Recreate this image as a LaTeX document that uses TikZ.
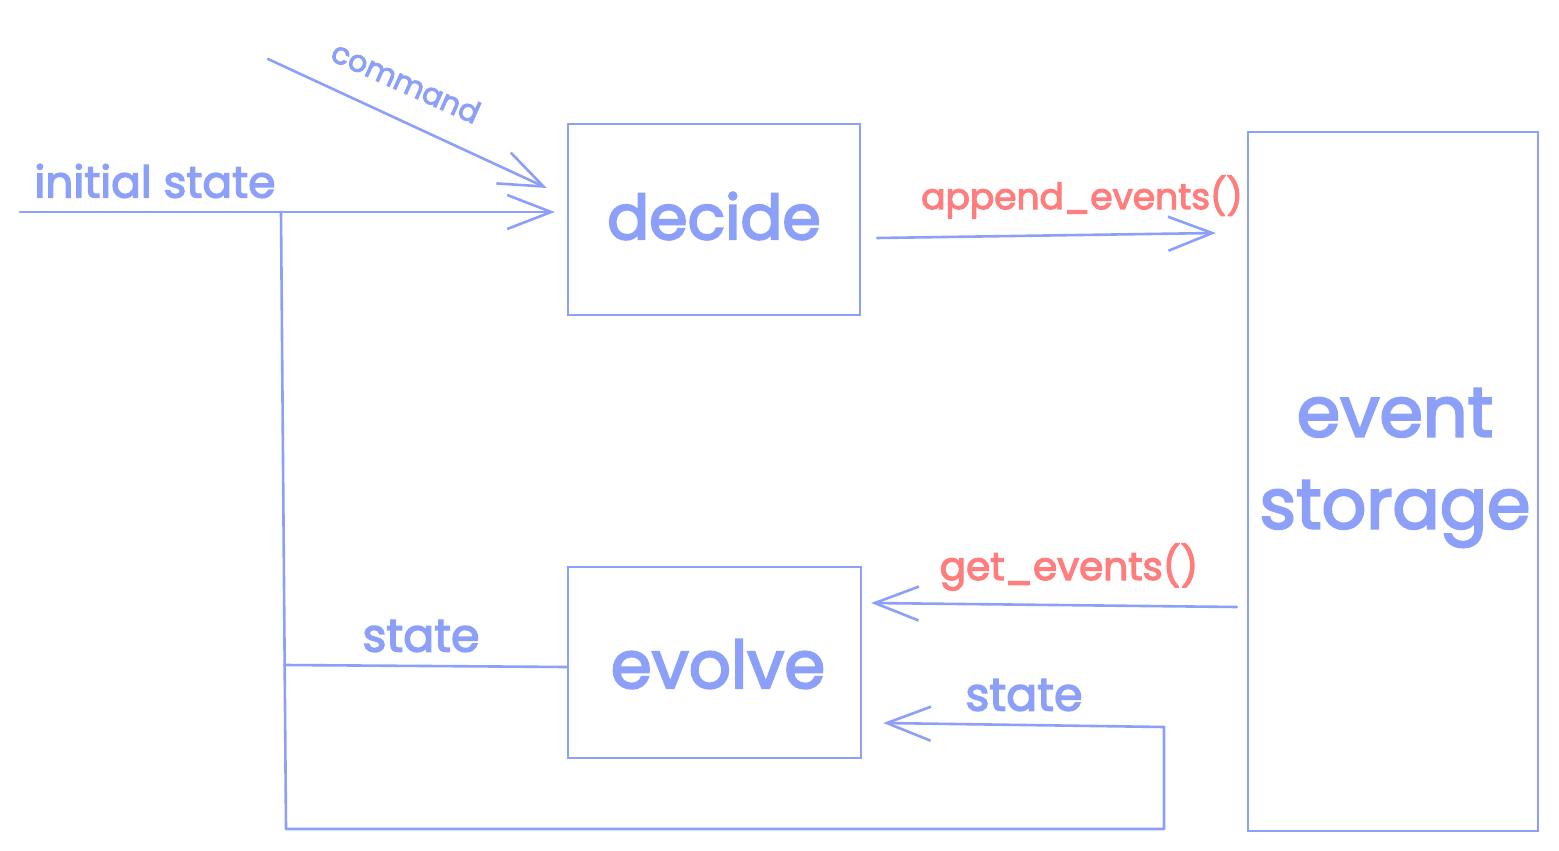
\documentclass[tikz,border=0pt]{standalone}
\usepackage{fontspec}
\setmainfont{Poppins}[FakeBold=3]
\usetikzlibrary{arrows.meta,calc}
\definecolor{skblue}{RGB}{140,160,250}
\definecolor{skred}{RGB}{255,125,125}
\tikzset{
  box/.style={draw=skblue,line width=2.4pt,minimum width=#1,inner sep=0pt},
  wire/.style={draw=skblue,line width=2.6pt,line cap=round,line join=round},
  arr/.style={wire,-{Straight Barb[length=44pt,width=34pt,line width=2.6pt]}},
  lbl/.style={text=skblue,font=\fontsize{46}{50}\selectfont,inner sep=0pt},
  rlbl/.style={text=skred,font=\fontsize{36}{40}\selectfont,inner sep=0pt},
  big/.style={text=skblue,font=\fontsize{62}{70}\selectfont}
}
\begin{document}
\begin{tikzpicture}[x=1pt,y=-1pt]
\useasboundingbox (0,0) rectangle (1559,851);
\fill[white] (0,0) rectangle (1559,851);
% boxes
\node[box=292pt,minimum height=191pt] (decide) at (714,219.5) {};
\node[big] at (714,216) {decide};
\node[box=293pt,minimum height=191pt] (evolve) at (714.5,662.5) {};
\node[big,font=\fontsize{66}{70}\selectfont] at (718,664) {evolve};
\node[box=290pt,minimum height=699pt] (storage) at (1393,481.5) {};
\node[big,align=center,font=\fontsize{70}{92}\selectfont] at (1395,468) {event\\storage};
% coordinates
\coordinate (is) at (20,212);
\coordinate (cmd) at (268,59);
\coordinate (j1) at (281,212);
\coordinate (j2) at (286,829);
\coordinate (j3) at (1164,829);
\coordinate (j4) at (1164,727);
\coordinate (jm) at (284.5,665);
% connectors
\draw[arr] (is) -- ($(decide.west)+(-12,-7.5)$);
\draw[arr] (cmd) -- ($(decide.west)+(-20,-31.5)$);
\draw[wire] (j1) -- (j2) -- (j3) -- (j4);
\draw[arr] (j4) -- ($(evolve.east)+(21,60.5)$);
\draw[wire] (evolve.west |- 0,667) -- (jm);
\draw[arr] ($(decide.east)+(16,18.5)$) -- ($(storage.west|-0,233)+(-31,0)$);
\draw[arr] ($(storage.west|-0,607)+(-10,0)$) -- ($(evolve.east|-0,603)+(9,0)$);
% labels
\node[lbl,rotate=-24,font=\fontsize{30}{32}\selectfont] at (406,82) {command};
\node[lbl,font=\fontsize{44}{48}\selectfont] at (155,181) {initial state};
\node[rlbl] at (1082,197) {append\_events()};
\node[rlbl,font=\fontsize{39}{44}\selectfont] at (1069,567) {get\_events()};
\node[lbl] at (421,636) {state};
\node[lbl] at (1024,695) {state};
\end{tikzpicture}
\end{document}
